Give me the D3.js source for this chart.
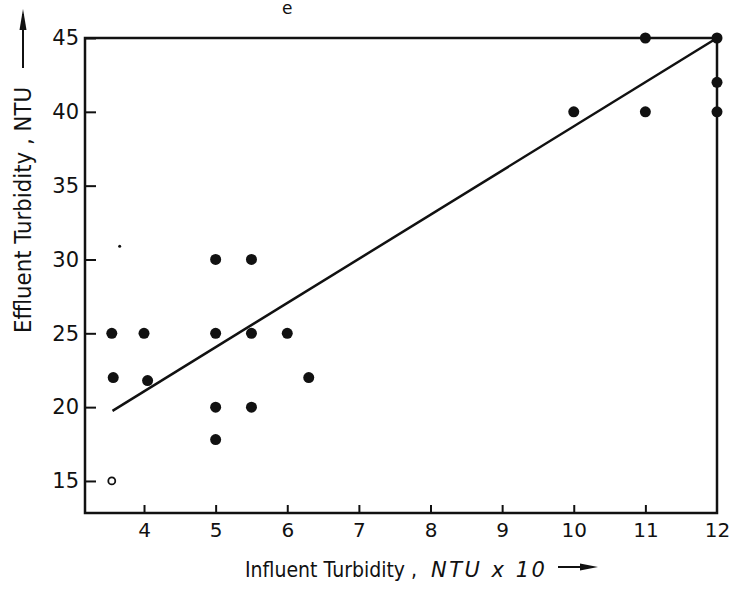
<!DOCTYPE html>
<html>
<head>
<meta charset="utf-8">
<script src="https://cdn.jsdelivr.net/npm/d3@7"></script>
<style>
  body { margin: 0; background: #fff; }
  svg { display: block; }
  text { font-family: "DejaVu Sans", sans-serif; fill: #111; }
</style>
</head>
<body>
<div id="chart"></div>
<script>
// data
var influent = [3.55, 3.57, 4.0, 4.05, 5.0, 5.5, 5.0, 5.5, 6.0, 5.0, 5.5, 5.0, 6.3, 10, 11, 11, 12, 12, 12];
var effluent = [25, 22, 25, 21.8, 30, 30, 25, 25, 25, 20, 20, 17.8, 22, 40, 40, 45, 45, 42, 40];
var openX = [3.55];
var openY = [15];
var fitX = [3.56, 12];
var fitY = [19.75, 45];
var xTicks = [4, 5, 6, 7, 8, 9, 10, 11, 12];
var yTicks = [15, 20, 25, 30, 35, 40, 45];
// specks from the scan
var speckX = [3.66];
var speckY = [30.9];

var W = 731, H = 589;
var margin = { top: 38, right: 14, bottom: 76, left: 85 },
  width = W - margin.left - margin.right,
  height = H - margin.top - margin.bottom;

var svg = d3.select("#chart")
  .append("svg")
  .attr("width", W)
  .attr("height", H);

var g = svg.append("g")
  .attr("transform", "translate(" + margin.left + "," + margin.top + ")");

var x = d3.scaleLinear().domain([3.176, 12]).range([0, width]);
var y = d3.scaleLinear().domain([12.83, 45]).range([height, 0]);

// caption, mostly cut off at the top of the scan
svg.append("text")
  .attr("x", 280).attr("y", -1)
  .attr("text-anchor", "end")
  .style("font-size", "22px")
  .text("Variation with C");
svg.append("text")
  .attr("x", 282).attr("y", 14)
  .style("font-size", "17px")
  .text("e");
svg.append("text")
  .attr("x", 330).attr("y", -1)
  .style("font-size", "22px")
  .text("Concentration");

// x axis, ticks pointing inward
var xAxis = g.append("g")
  .attr("transform", "translate(0," + height + ")")
  .call(d3.axisBottom(x).tickValues(xTicks).tickSize(-8).tickPadding(10).tickFormat(d3.format("d")));
xAxis.select(".domain").remove();
xAxis.selectAll(".tick line").attr("stroke", "#111").attr("stroke-width", 2);
xAxis.selectAll(".tick text")
  .style("font-size", "20px")
  .style("font-family", "DejaVu Sans")
  .attr("fill", "#111");
xAxis.selectAll(".tick").filter(function (d) { return d === 12; }).select("line").remove();

// y axis
var yAxis = g.append("g")
  .call(d3.axisLeft(y).tickValues(yTicks).tickSize(-11).tickPadding(6));
yAxis.select(".domain").remove();
yAxis.selectAll(".tick line").attr("stroke", "#111").attr("stroke-width", 2);
yAxis.selectAll(".tick text")
  .style("font-size", "21px")
  .style("font-family", "DejaVu Sans")
  .attr("fill", "#111");

// frame
g.append("rect")
  .attr("x", 0).attr("y", 0)
  .attr("width", width).attr("height", height)
  .attr("fill", "none")
  .attr("stroke", "#111")
  .attr("stroke-width", 2.5);

// regression line
g.append("path")
  .datum(d3.zip(fitX, fitY))
  .attr("d", d3.line()
    .x(function (d) { return x(d[0]); })
    .y(function (d) { return y(d[1]); }))
  .attr("fill", "none")
  .attr("stroke", "#111")
  .attr("stroke-width", 2.5);

// filled points
g.selectAll(".pt")
  .data(d3.zip(influent, effluent))
  .enter()
  .append("circle")
  .attr("class", "pt")
  .attr("cx", function (d) { return x(d[0]); })
  .attr("cy", function (d) { return y(d[1]); })
  .attr("r", 5.5)
  .attr("fill", "#111");

// open point
g.selectAll(".open")
  .data(d3.zip(openX, openY))
  .enter()
  .append("circle")
  .attr("class", "open")
  .attr("cx", function (d) { return x(d[0]); })
  .attr("cy", function (d) { return y(d[1]); })
  .attr("r", 3.5)
  .attr("fill", "#fff")
  .attr("stroke", "#111")
  .attr("stroke-width", 1.8);

g.selectAll(".speck")
  .data(d3.zip(speckX, speckY))
  .enter()
  .append("circle")
  .attr("class", "speck")
  .attr("cx", function (d) { return x(d[0]); })
  .attr("cy", function (d) { return y(d[1]); })
  .attr("r", 1.5)
  .attr("fill", "#111");

// axis titles
svg.append("text")
  .attr("transform", "translate(31,333) rotate(-90)")
  .attr("textLength", 246)
  .attr("lengthAdjust", "spacingAndGlyphs")
  .style("font-size", "23px")
  .text("Effluent Turbidity , NTU");

svg.append("line")
  .attr("x1", 23).attr("x2", 23)
  .attr("y1", 68).attr("y2", 14)
  .attr("stroke", "#111").attr("stroke-width", 2);
svg.append("path")
  .attr("d", "M23,9 L19.5,30 L26.5,30 Z")
  .attr("fill", "#111");

svg.append("text")
  .attr("transform", "translate(245,577) scale(0.86,1)")
  .style("font-size", "22px")
  .text("Influent Turbidity ,");
svg.append("text")
  .attr("x", 431).attr("y", 577)
  .style("font-size", "21px")
  .style("font-style", "italic")
  .style("letter-spacing", "2.5px")
  .text("NTU x 10");

svg.append("line")
  .attr("x1", 558).attr("x2", 592)
  .attr("y1", 567).attr("y2", 567)
  .attr("stroke", "#111").attr("stroke-width", 2);
svg.append("path")
  .attr("d", "M598,567 L580,563.5 L580,570.5 Z")
  .attr("fill", "#111");
</script>
</body>
</html>
